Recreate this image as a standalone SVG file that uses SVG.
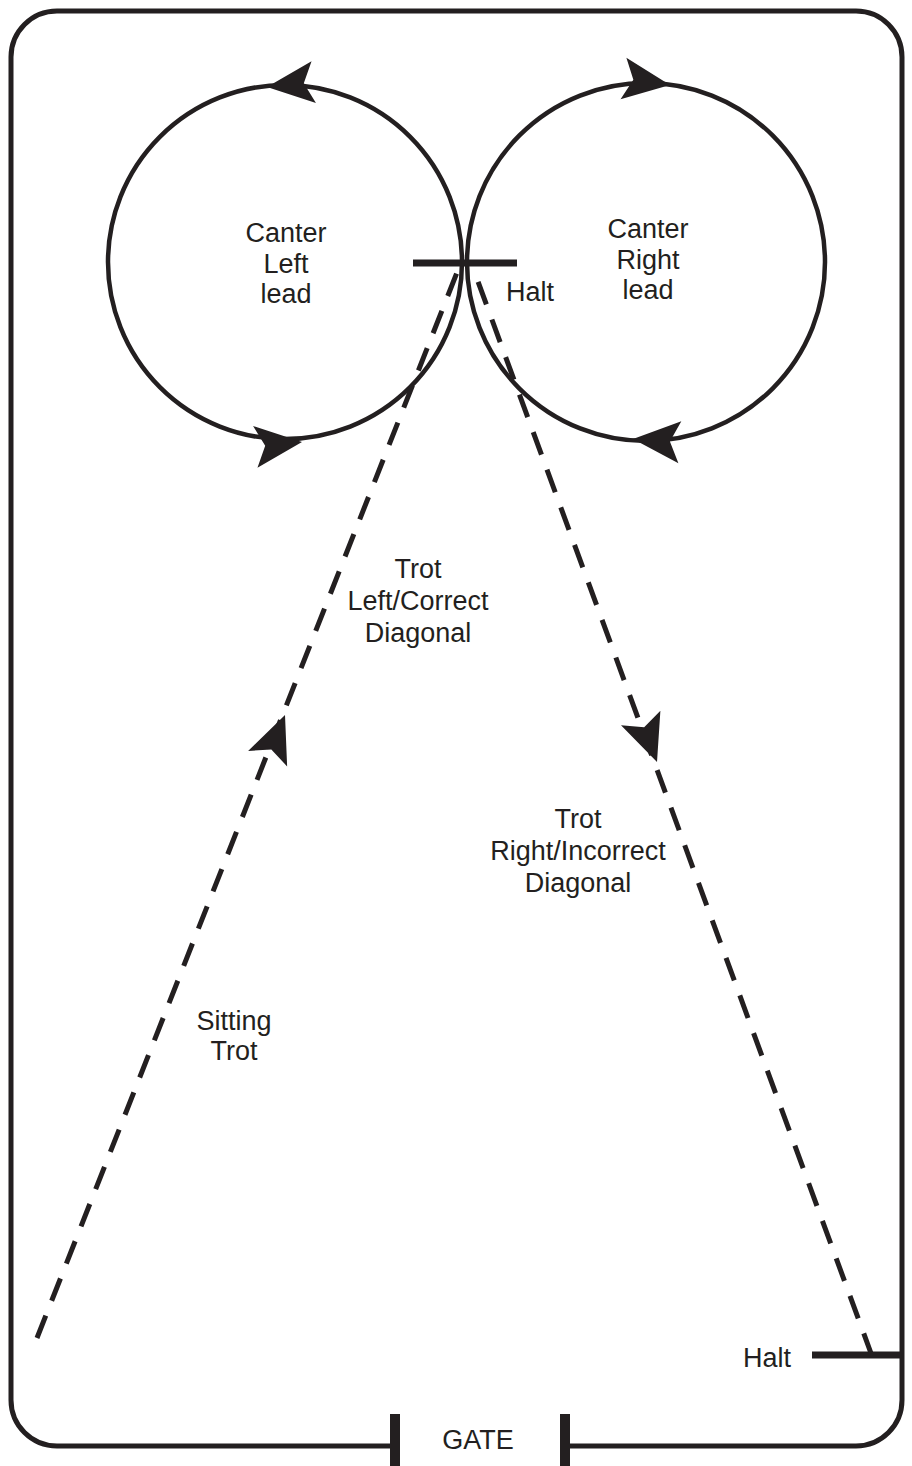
<svg xmlns="http://www.w3.org/2000/svg" xmlns:xlink="http://www.w3.org/1999/xlink" width="912" height="1466" viewBox="0 0 912 1466">
<style>
.ln{fill:none;stroke:#231f20;stroke-width:5}
.circ{fill:none;stroke:#231f20;stroke-width:4.5}
.dash{fill:none;stroke:#231f20;stroke-width:5;stroke-dasharray:24 16}
.halt{stroke:#231f20;stroke-width:7}
.ah{fill:#231f20}
text{font-family:"Liberation Sans",Arial,sans-serif;font-size:27px;fill:#231f20;text-anchor:middle}
</style>
<defs>
<path id="arrow" d="M0,0 L-47,-21 L-37,0 L-47,21 Z"/>
</defs>
<g id="arena">
<path class="ln" d="M395,1446 H57 A46,46 0 0 1 11,1400 V57 A46,46 0 0 1 57,11 H856 A46,46 0 0 1 902,57 V1400 A46,46 0 0 1 856,1446 H565"/>
</g>
<g id="gate">
<rect x="390" y="1414" width="10" height="52" fill="#231f20"/>
<rect x="560" y="1414" width="10" height="52" fill="#231f20"/>
<text x="478" y="1449">GATE</text>
</g>
<g id="circle-left">
<circle class="circ" cx="285" cy="262" r="177"/>
<text x="286" y="242">Canter</text>
<text x="286" y="273">Left</text>
<text x="286" y="303">lead</text>
</g>
<g id="circle-right">
<circle class="circ" cx="646" cy="262" r="179"/>
<text x="648" y="238">Canter</text>
<text x="648" y="269">Right</text>
<text x="648" y="299">lead</text>
</g>
<g id="halt-top">
<line class="halt" x1="413" y1="263" x2="517" y2="263"/>
<text x="530" y="301">Halt</text>
</g>
<g id="halt-bottom">
<line class="halt" x1="812" y1="1355" x2="900" y2="1355"/>
<text x="767" y="1367">Halt</text>
</g>
<g id="connectors">
<line class="dash" x1="37" y1="1338" x2="458" y2="270"/>
<line class="dash" x1="872" y1="1356" x2="473" y2="268"/>
<use href="#arrow" class="ah" transform="translate(285,715) rotate(-68.3)"/>
<use href="#arrow" class="ah" transform="translate(657,762) rotate(69.7)"/>
<use href="#arrow" class="ah" transform="translate(267,87) rotate(174)"/>
<use href="#arrow" class="ah" transform="translate(670,85) rotate(8)"/>
<use href="#arrow" class="ah" transform="translate(302,442) rotate(-6)"/>
<use href="#arrow" class="ah" transform="translate(633,439) rotate(184)"/>
</g>
<g id="labels">
<text x="418" y="578">Trot</text>
<text x="418" y="610">Left/Correct</text>
<text x="418" y="642">Diagonal</text>
<text x="578" y="828">Trot</text>
<text x="578" y="860">Right/Incorrect</text>
<text x="578" y="892">Diagonal</text>
<text x="234" y="1030">Sitting</text>
<text x="234" y="1060">Trot</text>
</g>
</svg>
